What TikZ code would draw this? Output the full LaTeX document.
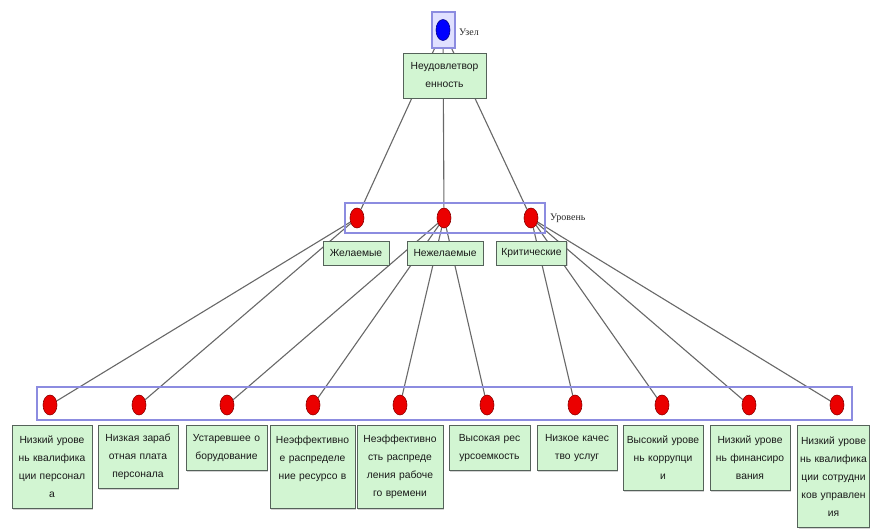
\documentclass[tikz,border=0pt]{standalone}
\usepackage{fontspec}
\setmainfont{Liberation Sans}
\newfontfamily\tagfont{Liberation Serif}
\usetikzlibrary{shapes.geometric,shadows}
\pgfdeclarelayer{background}
\pgfsetlayers{background,main}
\definecolor{boxfill}{HTML}{D2F5D2}
\definecolor{boxline}{HTML}{55625A}
\definecolor{grpline}{HTML}{8C8CE0}
\definecolor{edgecol}{HTML}{686868}
\tikzset{
  reddot/.style={ellipse,fill=red!92!black,draw=red!55!black,line width=0.6pt,
    minimum width=14pt,minimum height=20pt,inner sep=0pt},
  bluedot/.style={ellipse,fill=blue,draw=blue!55!black,line width=0.6pt,
    minimum width=14pt,minimum height=21pt,inner sep=0pt},
  grp/.style={draw=grpline,line width=1.4pt,inner sep=0pt},
  lbl/.style={rectangle,fill=boxfill,draw=boxline,line width=0.9pt,
    align=center,inner xsep=1pt,inner ysep=2pt,
    font=\fontsize{10.3}{18}\selectfont,text=black!90,
    drop shadow={shadow xshift=1.3pt,shadow yshift=-1.3pt,opacity=0.35}},
  tag/.style={font=\tagfont\fontsize{10}{11}\selectfont,text=black!85,anchor=west,inner sep=1pt},
  edge/.style={draw=edgecol,line width=1.1pt}
}
\begin{document}
\begin{tikzpicture}[x=1pt,y=-1pt]
\useasboundingbox (0,0) rectangle (870,528);

% level frames
\node[grp,fill=blue!12,minimum width=23pt,minimum height=36pt] (lvl0) at (443.5,30) {};
\node[grp,minimum width=200pt,minimum height=30pt] (lvl1) at (445,218) {};
\node[grp,minimum width=815pt,minimum height=33pt] (lvl2) at (444.5,403.5) {};

% dots
\node[bluedot] (t) at (443,30) {};
\node[reddot] (m1) at (357,218) {};
\node[reddot] (m2) at (444,218) {};
\node[reddot] (m3) at (531,218) {};
\foreach \i/\x in {1/50,2/139,3/227,4/313,5/400,6/487,7/575,8/662,9/749,10/837}
  \node[reddot] (b\i) at (\x,405) {};

% level tags
\node[tag] (tagtop) at (458,32) {Узел};
\node[tag] (tagmid) at (549,218) {Уровень};

% connectors, behind everything
\begin{pgfonlayer}{background}
  \foreach \m in {m1,m2,m3} \draw[edge] (t) -- (\m);
  \foreach \b in {b1,b2} \draw[edge] (m1) -- (\b);
  \foreach \b in {b3,b4,b5,b6} \draw[edge] (m2) -- (\b);
  \foreach \b in {b7,b8,b9,b10} \draw[edge] (m3) -- (\b);
\end{pgfonlayer}

% labels
\node[lbl,minimum width=83pt,minimum height=45pt,text width=80pt] (goal) at (444.5,75.5)
  {Неудовлетвор\\енность};

\node[lbl,minimum width=66pt,minimum height=24pt] (lm1) at (356,253) {Желаемые};
\node[lbl,minimum width=76pt,minimum height=24pt] (lm2) at (445,253) {Нежелаемые};
\node[lbl,minimum width=70pt,minimum height=24pt] (lm3) at (531.5,253) {Критические};

\node[lbl,anchor=north,minimum width=80pt,minimum height=83pt,text width=77pt] (lb1) at (52,425)
  {Низкий урове\\нь квалифика\\ции персонал\\а};
\node[lbl,anchor=north,minimum width=80pt,minimum height=63pt,text width=77pt] (lb2) at (138,425)
  {Низкая зараб\\отная плата\\персонала};
\node[lbl,anchor=north,minimum width=81pt,minimum height=45pt,text width=78pt] (lb3) at (226.5,425)
  {Устаревшее о\\борудование};
\node[lbl,anchor=north,minimum width=85pt,minimum height=83pt,text width=82pt] (lb4) at (312.5,425)
  {Неэффективно\\е распределе\\ние ресурсо в\\\mbox{}};
\node[lbl,anchor=north,minimum width=86pt,minimum height=83pt,text width=83pt] (lb5) at (400,425)
  {Неэффективно\\сть распреде\\ления рабоче\\го времени};
\node[lbl,anchor=north,minimum width=81pt,minimum height=45pt,text width=78pt] (lb6) at (489.5,425)
  {Высокая рес\\урсоемкость};
\node[lbl,anchor=north,minimum width=80pt,minimum height=45pt,text width=77pt] (lb7) at (577,425)
  {Низкое качес\\тво услуг};
\node[lbl,anchor=north,minimum width=80pt,minimum height=65pt,text width=77pt] (lb8) at (663,425)
  {Высокий урове\\нь коррупци\\и};
\node[lbl,anchor=north,minimum width=80pt,minimum height=65pt,text width=77pt] (lb9) at (750,425)
  {Низкий урове\\нь финансиро\\вания};
\node[lbl,anchor=north,minimum width=72pt,minimum height=102pt,text width=69pt] (lb10) at (833.5,425)
  {Низкий урове\\нь квалифика\\ции сотрудни\\ков управлен\\ия};
\end{tikzpicture}
\end{document}
